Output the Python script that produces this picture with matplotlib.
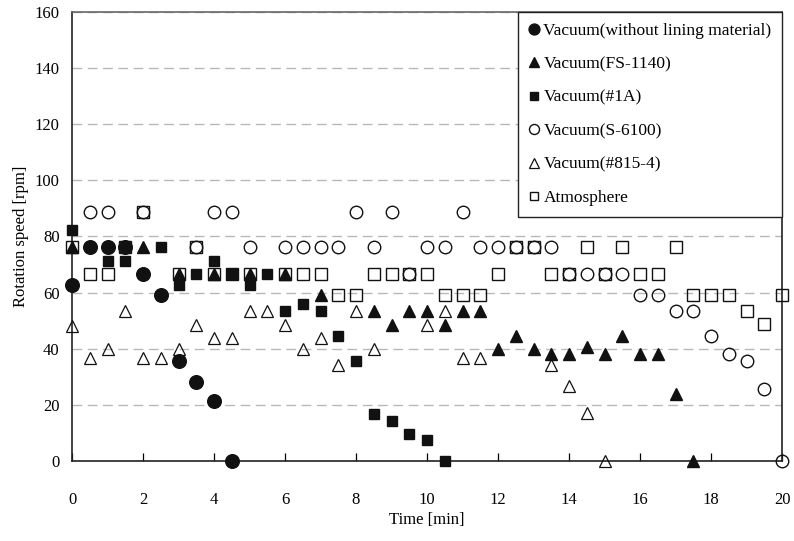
import numpy as np
import matplotlib
matplotlib.use("Agg")
import matplotlib.pyplot as plt

plt.rcParams['font.family'] = ['Liberation Serif', 'DejaVu Serif']

# ── Data ──────────────────────────────────────────────────────────────────────
t_none = [0, 0.5, 1, 1.5, 2, 2.5, 3, 3.5, 4, 4.5]
v_none = [62.7, 76.2, 76.2, 76.2, 66.7, 59.3, 35.6, 28.3, 21.5, 0]

t_fs = [0, 2, 3, 4, 5, 6, 7, 8.5, 9, 9.5, 10, 10.5, 11, 11.5, 12, 12.5, 13,
        13.5, 14, 14.5, 15, 15.5, 16, 16.5, 17, 17.5]
v_fs = [76.2, 76.2, 66.7, 66.7, 66.7, 66.7, 59.3, 53.3, 48.5, 53.3, 53.3, 48.5,
        53.3, 53.3, 40.0, 44.4, 40.0, 38.1, 38.1, 40.7, 38.1, 44.4, 38.1, 38.1,
        23.8, 0]

t_1a = [0, 1, 1.5, 2.5, 3, 3.5, 4, 4.5, 5, 5.5, 6, 6.5, 7, 7.5, 8, 8.5, 9,
        9.5, 10, 10.5]
v_1a = [82.3, 71.1, 71.1, 76.2, 62.7, 66.7, 71.1, 66.7, 62.7, 66.7, 53.3, 56.1,
        53.3, 44.4, 35.6, 16.7, 14.3, 9.5, 7.5, 0]

t_s6 = [0.5, 1, 2, 3.5, 4, 4.5, 5, 6, 6.5, 7, 7.5, 8, 8.5, 9, 9.5, 10, 10.5,
        11, 11.5, 12, 12.5, 13, 13.5, 14, 14.5, 15, 15.5, 16, 16.5, 17, 17.5,
        18, 18.5, 19, 19.5, 20]
v_s6 = [88.9, 88.9, 88.9, 76.2, 88.9, 88.9, 76.2, 76.2, 76.2, 76.2, 76.2, 88.9,
        76.2, 88.9, 66.7, 76.2, 76.2, 88.9, 76.2, 76.2, 76.2, 76.2, 76.2, 66.7,
        66.7, 66.7, 66.7, 59.3, 59.3, 53.3, 53.3, 44.4, 38.1, 35.6, 25.7, 0]

t_815 = [0, 0.5, 1, 1.5, 2, 2.5, 3, 3.5, 4, 4.5, 5, 5.5, 6, 6.5, 7, 7.5, 8,
         8.5, 10, 10.5, 11, 11.5, 13.5, 14, 14.5, 15]
v_815 = [48.1, 36.8, 40.0, 53.3, 36.8, 36.8, 40.0, 48.5, 43.7, 43.7, 53.3, 53.3,
         48.5, 40.0, 43.7, 34.2, 53.3, 40.0, 48.5, 53.3, 36.8, 36.8, 34.2, 26.7,
         17.2, 0]

t_atm = [0, 0.5, 1, 1.5, 2, 3, 3.5, 4, 4.5, 5, 6, 6.5, 7, 7.5, 8, 8.5, 9, 9.5,
         10, 10.5, 11, 11.5, 12, 12.5, 13, 13.5, 14, 14.5, 15, 15.5, 16, 16.5,
         17, 17.5, 18, 18.5, 19, 19.5, 20]
v_atm = [76.2, 66.7, 66.7, 76.2, 88.9, 66.7, 76.2, 66.7, 66.7, 66.7, 66.7, 66.7,
         66.7, 59.3, 59.3, 66.7, 66.7, 66.7, 66.7, 59.3, 59.3, 59.3, 66.7, 76.2,
         76.2, 66.7, 66.7, 76.2, 66.7, 76.2, 66.7, 66.7, 76.2, 59.3, 59.3, 59.3,
         53.3, 48.7, 59.3]

labels = ["Vacuum(without lining material)", "Vacuum(FS-1140)", "Vacuum(#1A)",
          "Vacuum(S-6100)", "Vacuum(#815-4)", "Atmosphere"]

# ── Figure ────────────────────────────────────────────────────────────────────
fig = plt.figure(figsize=(7.94, 5.41), dpi=100)
ax = fig.add_axes([0.0907, 0.1479, 0.8942, 0.8299])

K = "#111111"
ax.plot(t_none, v_none, "o", ms=9.8, color=K, ls="none", label=labels[0], clip_on=False, zorder=3)
ax.plot(t_fs, v_fs, "^", ms=8.5, color=K, ls="none", label=labels[1], clip_on=False, zorder=3)
ax.plot(t_1a, v_1a, "s", ms=7.8, color=K, ls="none", label=labels[2], clip_on=False, zorder=3)
ax.plot(t_s6, v_s6, "o", ms=9.0, mfc="none", mec=K, mew=1.0, ls="none",
        label=labels[3], clip_on=False, zorder=4)
ax.plot(t_815, v_815, "^", ms=8.5, mfc="none", mec=K, mew=0.9, ls="none",
        label=labels[4], clip_on=False, zorder=4)
ax.plot(t_atm, v_atm, "s", ms=8.0, mfc="none", mec=K, mew=1.0, ls="none",
        label=labels[5], clip_on=False, zorder=4)

ax.set_xlim(0, 20)
ax.set_ylim(0, 160)
ax.set_xticks(np.arange(0, 21, 2))
ax.set_yticks(np.arange(0, 161, 20))
ax.yaxis.grid(True, color="#b8b8b8", lw=1.0, ls=(0, (7, 4)))
ax.set_axisbelow(True)

ax.tick_params(axis="x", direction="in", length=5.5, width=0.9, pad=22, labelsize=12)
ax.tick_params(axis="y", length=0, pad=9, labelsize=12)

for side in ("left", "bottom", "right"):
    ax.spines[side].set_linewidth(1.2)
    ax.spines[side].set_color("#222222")
ax.spines["top"].set_color("#666666")
ax.spines["top"].set_linewidth(1.2)

ax.set_xlabel("Time [min]", fontsize=12, labelpad=3)
ax.set_ylabel("Rotation speed [rpm]", fontsize=12, labelpad=4)

leg = ax.legend(loc="upper right", bbox_to_anchor=(1, 1), borderaxespad=0,
                fontsize=12.5, frameon=True, fancybox=False, edgecolor="#222222",
                framealpha=1, handlelength=0.6, handletextpad=0.25,
                labelspacing=1.0, borderpad=0.6, markerscale=0.8)
leg.get_frame().set_linewidth(1.0)

fig.savefig("out.png", dpi=100, facecolor="white")
